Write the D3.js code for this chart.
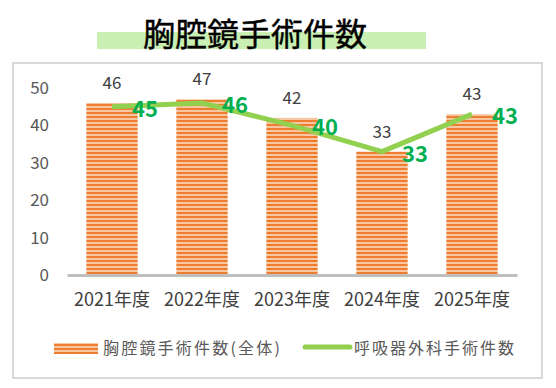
<!DOCTYPE html>
<html><head><meta charset="utf-8">
<script src="https://cdn.jsdelivr.net/npm/d3@7"></script>
<style>body{margin:0;background:#fff}svg{display:block}</style>
</head><body>
<script>
const categories = ["2021年度","2022年度","2023年度","2024年度","2025年度"];
const totalValues = [46,47,42,33,43];
const respValues = [45,46,40,33,43];
const yTicks = [0,10,20,30,40,50];
const titleText = "胸腔鏡手術件数";
const seriesNames = ["胸腔鏡手術件数(全体)","呼吸器外科手術件数"];

const W=556,H=388;
const font = "'Noto Sans CJK JP','Noto Sans',sans-serif";
const svg=d3.select("body").append("svg").attr("width",W).attr("height",H);
const defs=svg.append("defs");
const pat=defs.append("pattern").attr("id","stripe").attr("patternUnits","userSpaceOnUse")
  .attr("width",4).attr("height",4);
pat.append("rect").attr("width",4).attr("height",4).attr("fill","#F8C6A0");
pat.append("rect").attr("y",0).attr("width",4).attr("height",2).attr("fill","#ED7D31");

// title
svg.append("rect").attr("x",97).attr("y",32).attr("width",329).attr("height",17).attr("fill","#C9F0B2");
svg.append("text").attr("x",255).attr("y",46).attr("text-anchor","middle")
  .attr("font-family",font).attr("font-size",32).attr("font-weight",400).attr("fill","#000")
  .attr("stroke","#000").attr("stroke-width",0.4)
  .text(titleText);

// chart border
svg.append("rect").attr("x",13).attr("y",63).attr("width",529).attr("height",315)
  .attr("fill","none").attr("stroke","#D9D9D9").attr("stroke-width",2);

const x=d3.scaleBand().domain(categories).range([67,517]).paddingInner(0.43).paddingOuter(0.215);
const y=d3.scaleLinear().domain([0,50]).range([275,88]);

// y axis
const ya=svg.append("g").attr("transform","translate(49,0)")
  .call(d3.axisLeft(y).tickValues(yTicks).tickSize(0).tickPadding(0));
ya.select(".domain").remove();
ya.selectAll("text").attr("font-family",font).attr("font-size",17).attr("fill","#595959");

// bars
svg.append("g").selectAll("rect").data(totalValues).join("rect")
  .attr("x",(d,i)=>x(categories[i])).attr("width",x.bandwidth())
  .attr("y",d=>y(d)).attr("height",d=>y(0)-y(d)).attr("fill","url(#stripe)");

// x axis
const xa=svg.append("g").attr("transform","translate(0,275)")
  .call(d3.axisBottom(x).tickSize(0).tickPadding(18));
xa.select(".domain").attr("stroke","#BFBFBF").attr("stroke-width",3);
xa.selectAll("text").attr("font-family",font).attr("font-size",18).attr("fill","#404040");

// bar labels
svg.append("g").selectAll("text").data(totalValues).join("text")
  .attr("x",(d,i)=>x(categories[i])+x.bandwidth()/2).attr("y",d=>y(d)-14)
  .attr("text-anchor","middle").attr("font-family",font).attr("font-size",17).attr("fill","#404040")
  .text(d=>d);

// line
const cx=(i)=>x(categories[i])+x.bandwidth()/2;
svg.append("path").datum(respValues)
  .attr("d",d3.line().x((d,i)=>cx(i)).y(d=>y(d)))
  .attr("fill","none").attr("stroke","#92D050").attr("stroke-width",5).attr("stroke-linejoin","round");
svg.append("g").selectAll("text").data(respValues).join("text")
  .attr("x",(d,i)=>cx(i)+20).attr("y",d=>y(d)+10)
  .attr("font-family",font).attr("font-size",22).attr("font-weight",700).attr("fill","#00B050")
  .text(d=>d);

// legend
svg.append("rect").attr("x",54).attr("y",343).attr("width",44).attr("height",11).attr("fill","url(#stripe)");
svg.append("text").attr("x",103).attr("y",354).attr("font-family",font).attr("font-size",16)
  .attr("letter-spacing",2.2).attr("fill","#595959").text(seriesNames[0]);
svg.append("line").attr("x1",305).attr("x2",350).attr("y1",347).attr("y2",347)
  .attr("stroke","#92D050").attr("stroke-width",5).attr("stroke-linecap","round");
svg.append("text").attr("x",354).attr("y",354).attr("font-family",font).attr("font-size",16)
  .attr("letter-spacing",2).attr("fill","#595959").text(seriesNames[1]);
</script>
</body></html>
